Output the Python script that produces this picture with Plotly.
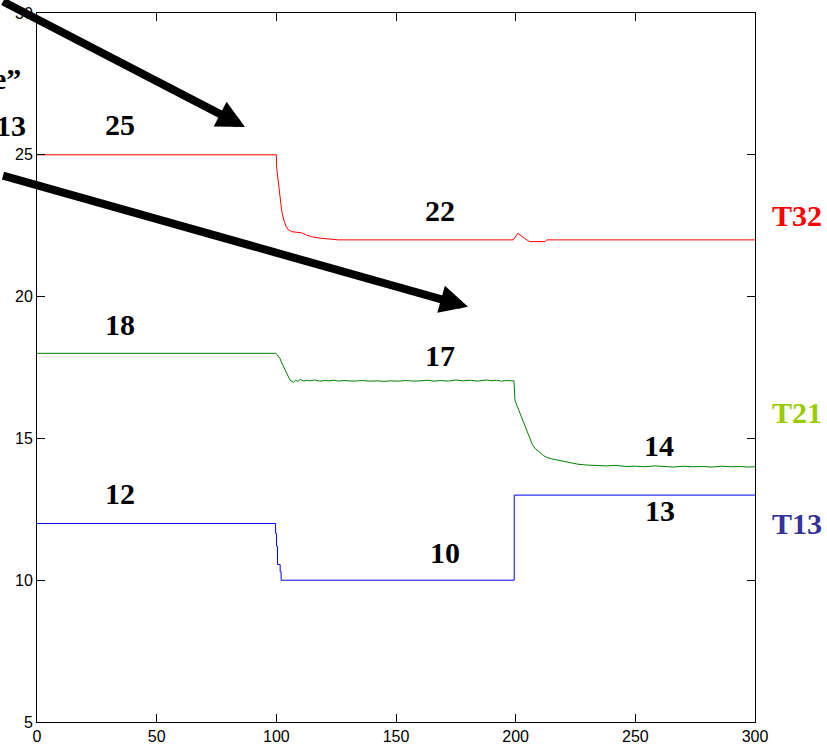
import plotly.graph_objects as go

# Time axis (s) and temperature readings for the three controlled zones
t32_x = [0, 100, 100.1, 101.2, 102.2, 103.1, 104.0, 105.0, 106.4, 110.6, 112.5, 114.8,
         118.3, 125.9, 199.0, 200.9, 203.3, 205.7, 212.3, 213.0, 300]
t32_y = [25, 25, 24.58, 23.8, 23.05, 22.7, 22.49, 22.36, 22.29, 22.25, 22.17, 22.11,
         22.06, 22.0, 22.0, 22.23, 22.08, 21.94, 21.94, 22.0, 22.0]

t21_x = [0, 99.7, 100.5, 101.5, 102.5, 103.6, 104.6, 105.7, 107.1, 108, 109, 110, 111.5,
         113, 114, 116, 118, 120, 122, 124, 126, 128, 130, 133, 136, 139, 142, 145,
         148, 151, 154, 157, 160, 163, 166, 169, 172, 175, 178, 181, 184, 186, 188,
         190, 192, 194, 196, 198, 199.3, 199.5, 199.7, 200.8, 201.8, 202.9, 203.9,
         205.0, 206.0, 207.0, 208.1, 209.0, 210.2, 211.5, 213.0, 215.0, 217.2, 220.0,
         222.7, 226.0, 229.7, 234.0, 238.0, 242, 246, 250, 254, 258, 262, 266, 270,
         274, 278, 282, 286, 290, 294, 297, 300]
t21_y = [18, 18, 17.94, 17.82, 17.62, 17.41, 17.22, 17.06, 16.98, 17.05, 17.01, 17.08,
         17.02, 17.05, 17.03, 17.06, 17.02, 17.04, 17.03, 17.05, 17.02, 17.04, 17.03,
         17.02, 17.04, 17.02, 17.03, 17.01, 17.03, 17.02, 17.04, 17.02, 17.03, 17.05,
         17.02, 17.04, 17.02, 17.06, 17.03, 17.05, 17.02, 17.04, 17.06, 17.03, 17.05,
         17.02, 17.04, 17.03, 17.03, 16.67, 16.35, 16.1, 15.89, 15.64, 15.41, 15.16,
         14.94, 14.78, 14.65, 14.57, 14.5, 14.4, 14.33, 14.28, 14.24, 14.18, 14.14,
         14.09, 14.06, 14.04, 14.03, 14.05, 14.01, 14.02, 14.0, 14.03, 14.01, 13.99,
         14.02, 14.0, 14.01, 13.99, 14.02, 14.0, 14.01, 13.99, 14.0]

t13_x = [0, 99.7, 99.7, 100.1, 100.1, 100.5, 100.5, 101.6, 101.6, 102.0, 102.0, 199.4,
         199.4, 300]
t13_y = [12, 12, 11.65, 11.65, 11.2, 11.2, 10.55, 10.55, 10.3, 10.3, 10.0, 10.0, 13, 13]

# Set-point annotations: (text, x, y)
value_labels = [("25", 34.6, 26.08), ("22", 168.3, 23.03), ("18", 34.7, 19.0),
                ("17", 168.4, 17.92), ("14", 260.0, 14.75), ("13", 260.2, 12.45),
                ("10", 170.5, 10.99), ("12", 34.7, 13.07)]

# Zone names beside the right axis: (text, paper y, colour)
zone_labels = [("T32", 0.714, "#FF0000"), ("T21", 0.437, "#99CC00"), ("T13", 0.2803, "#333399")]

x_ticks = [0, 50, 100, 150, 200, 250, 300]
y_ticks = [5, 10, 15, 20, 25, 30]

fig = go.Figure()
fig.add_trace(go.Scatter(x=t32_x, y=t32_y, mode="lines", line=dict(color="#FF0000", width=1)))
fig.add_trace(go.Scatter(x=t21_x, y=t21_y, mode="lines", line=dict(color="#008000", width=1)))
fig.add_trace(go.Scatter(x=t13_x, y=t13_y, mode="lines", line=dict(color="#0000FF", width=1)))

serif_bold = dict(family="Liberation Serif, Times New Roman, serif", size=30, color="black",
                  weight="bold")

annotations = []
for txt, x, y in value_labels:
    annotations.append(dict(text=txt, x=x, y=y, xref="x", yref="y", showarrow=False,
                            font=serif_bold, xanchor="center", yanchor="middle"))
for txt, y, col in zone_labels:
    annotations.append(dict(text=txt, x=1.0585, y=y, xref="paper", yref="paper",
                            showarrow=False, font=dict(serif_bold, color=col),
                            xanchor="center", yanchor="middle"))

# Caption fragments running in from the left edge
annotations.append(dict(text="e\u201d", x=-0.0195, y=0.908, xref="paper", yref="paper",
                        showarrow=False, font=serif_bold, xanchor="right", yanchor="middle"))
annotations.append(dict(text="T13", x=-0.0125, y=0.842, xref="paper", yref="paper",
                        showarrow=False, font=serif_bold, xanchor="right", yanchor="middle"))

# Pointer arrows
annotations.append(dict(text=" ", x=86.9, y=25.98, xref="x", yref="y", ax=-285, ay=-144,
                        axref="pixel", ayref="pixel", showarrow=True, arrowhead=2,
                        arrowsize=0.7, arrowwidth=8, arrowcolor="black", standoff=0))
annotations.append(dict(text=" ", x=180.1, y=19.64, xref="x", yref="y", ax=-508, ay=-132,
                        axref="pixel", ayref="pixel", showarrow=True, arrowhead=2,
                        arrowsize=0.7, arrowwidth=8, arrowcolor="black", standoff=0))

axis_common = dict(showline=True, linecolor="black", linewidth=1, mirror="ticks",
                   ticks="inside", ticklen=8, tickcolor="black", tickwidth=1,
                   showgrid=False, zeroline=False, automargin=False,
                   tickfont=dict(family="Liberation Sans Narrow, Arial Narrow, Liberation Sans, Arial",
                                 size=16, color="black"))

fig.update_layout(
    width=827, height=749,
    margin=dict(l=37, r=72, t=13, b=27),
    paper_bgcolor="white", plot_bgcolor="white",
    showlegend=False,
    xaxis=dict(axis_common, range=[0, 300], tickvals=x_ticks, ticklabelstandoff=0),
    yaxis=dict(axis_common, range=[5, 30], tickvals=y_ticks, ticklabelstandoff=0),
    annotations=annotations,
)

fig.write_html("out.html")
